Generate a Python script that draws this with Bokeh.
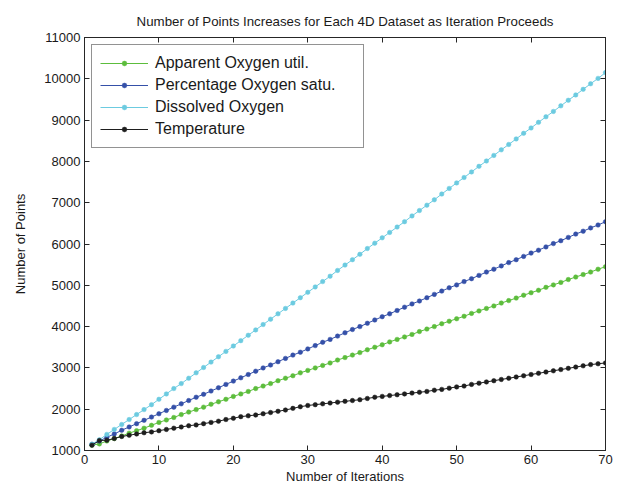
from bokeh.plotting import figure
from bokeh.models import FixedTicker, LinearAxis, CustomJSTickFormatter, Range1d, Legend, LegendItem
from bokeh.embed import file_html
from bokeh.resources import INLINE

iterations = list(range(1, 71))

apparent_oxygen = [1130, 1160, 1230, 1290, 1350, 1420, 1480, 1540, 1610, 1680,
                   1740, 1800, 1870, 1930, 1990, 2050, 2120, 2180, 2240, 2310,
                   2370, 2430, 2500, 2560, 2620, 2690, 2750, 2810, 2880, 2940,
                   3000, 3060, 3120, 3190, 3250, 3310, 3370, 3440, 3500, 3560,
                   3630, 3690, 3750, 3810, 3880, 3940, 4000, 4070, 4130, 4190,
                   4250, 4320, 4380, 4440, 4500, 4570, 4630, 4690, 4760, 4820,
                   4880, 4950, 5010, 5070, 5140, 5200, 5260, 5320, 5390, 5450]

percentage_oxygen = [1150, 1230, 1320, 1400, 1490, 1570, 1650, 1730, 1810, 1890,
                     1970, 2050, 2130, 2210, 2290, 2360, 2440, 2520, 2600, 2680,
                     2760, 2840, 2920, 3000, 3070, 3150, 3230, 3310, 3380, 3460,
                     3540, 3620, 3690, 3770, 3850, 3930, 4000, 4080, 4160, 4240,
                     4310, 4390, 4470, 4550, 4620, 4700, 4780, 4860, 4940, 5010,
                     5090, 5160, 5240, 5320, 5390, 5470, 5550, 5620, 5700, 5780,
                     5850, 5930, 6010, 6080, 6160, 6240, 6310, 6390, 6460, 6540]

dissolved_oxygen = [1150, 1260, 1390, 1510, 1630, 1750, 1870, 1990, 2110, 2240,
                    2370, 2500, 2620, 2750, 2880, 3010, 3140, 3270, 3400, 3530,
                    3660, 3790, 3920, 4050, 4180, 4310, 4440, 4570, 4700, 4830,
                    4960, 5090, 5220, 5360, 5490, 5620, 5750, 5890, 6020, 6150,
                    6280, 6410, 6540, 6680, 6810, 6940, 7070, 7210, 7345, 7480,
                    7610, 7745, 7880, 8010, 8145, 8280, 8410, 8545, 8680, 8810,
                    8945, 9080, 9210, 9345, 9480, 9610, 9745, 9880, 10010, 10150]

temperature = [1130, 1240, 1250, 1290, 1340, 1370, 1400, 1430, 1450, 1480,
               1510, 1540, 1570, 1600, 1620, 1650, 1680, 1710, 1750, 1780,
               1820, 1840, 1860, 1890, 1920, 1950, 1980, 2020, 2060, 2090,
               2110, 2130, 2150, 2170, 2190, 2210, 2230, 2260, 2290, 2310,
               2330, 2350, 2370, 2390, 2410, 2430, 2460, 2480, 2510, 2540,
               2560, 2600, 2630, 2660, 2690, 2720, 2750, 2780, 2810, 2840,
               2870, 2900, 2930, 2960, 2990, 3020, 3050, 3080, 3100, 3120]

series_names = ["Apparent Oxygen util.", "Percentage Oxygen satu.", "Dissolved Oxygen", "Temperature"]
series_values = [apparent_oxygen, percentage_oxygen, dissolved_oxygen, temperature]
series_colors = ["#5cbd3c", "#3550a8", "#6ccbe0", "#1e1e1e"]

x_ticks = [0, 10, 20, 30, 40, 50, 60, 70]
y_ticks = [1000, 2000, 3000, 4000, 5000, 6000, 7000, 8000, 9000, 10000, 11000]

FONT = "Liberation Sans"

p = figure(width=617, height=486, output_backend="svg", toolbar_location=None,
           x_range=Range1d(0, 70), y_range=Range1d(1000, 11000),
           min_border_left=84, min_border_right=12, min_border_top=37, min_border_bottom=30)

p.title.text = "Number of Points Increases for Each 4D Dataset as Iteration Proceeds"
p.title.align = "center"
p.title.text_font = FONT
p.title.text_font_size = "13.3px"
p.title.text_font_style = "normal"
p.title.text_color = "#1a1a1a"
p.title.standoff = 17

p.xgrid.visible = False
p.ygrid.visible = False
p.outline_line_color = "#262626"
p.outline_line_width = 1
p.background_fill_color = "white"
p.border_fill_color = "white"

for ax, ticks in ((p.xaxis[0], x_ticks), (p.yaxis[0], y_ticks)):
    ax.ticker = FixedTicker(ticks=ticks)
    ax.major_tick_in = 5
    ax.major_tick_out = 0
    ax.minor_tick_in = 0
    ax.minor_tick_out = 0
    ax.axis_line_color = "#262626"
    ax.major_tick_line_color = "#262626"
    ax.major_label_text_font = FONT
    ax.major_label_text_font_size = "13px"
    ax.major_label_text_color = "#1a1a1a"
    ax.axis_label_text_font = FONT
    ax.axis_label_text_font_size = "13px"
    ax.axis_label_text_font_style = "normal"
    ax.axis_label_text_color = "#1a1a1a"
    ax.major_label_standoff = 4

p.xaxis.axis_label = "Number of Iterations"
p.yaxis.axis_label = "Number of Points"
p.xaxis.axis_label_standoff = 2
p.yaxis.axis_label_standoff = 13

blank = CustomJSTickFormatter(code="return ''")
top_axis = LinearAxis(ticker=FixedTicker(ticks=x_ticks), formatter=blank,
                      major_tick_in=5, major_tick_out=0, minor_tick_in=0, minor_tick_out=0,
                      major_label_standoff=0, axis_line_color="#262626", major_tick_line_color="#262626")
right_axis = LinearAxis(ticker=FixedTicker(ticks=y_ticks), formatter=blank,
                        major_tick_in=5, major_tick_out=0, minor_tick_in=0, minor_tick_out=0,
                        major_label_standoff=0, axis_line_color="#262626", major_tick_line_color="#262626")
p.add_layout(top_axis, "above")
p.add_layout(right_axis, "right")

items = []
for name, vals, col in zip(series_names, series_values, series_colors):
    r1 = p.line(iterations, vals, line_color=col, line_width=1)
    r2 = p.scatter(iterations, vals, size=4.5, fill_color=col, line_color=col, line_width=0.5)
    items.append(LegendItem(label=name, renderers=[r1, r2]))

legend = Legend(items=items, location="top_left")
legend.label_text_font = FONT
legend.label_text_font_size = "16px"
legend.label_text_color = "#1a1a1a"
legend.border_line_color = "#262626"
legend.border_line_width = 1
legend.glyph_width = 48
legend.glyph_height = 12
legend.label_height = 20
legend.label_width = 200
legend.spacing = 2
legend.padding = 8
legend.margin = 7
legend.label_standoff = 7
legend.background_fill_color = "white"
p.add_layout(legend, "center")

open("out.html", "w").write(file_html(p, INLINE))
